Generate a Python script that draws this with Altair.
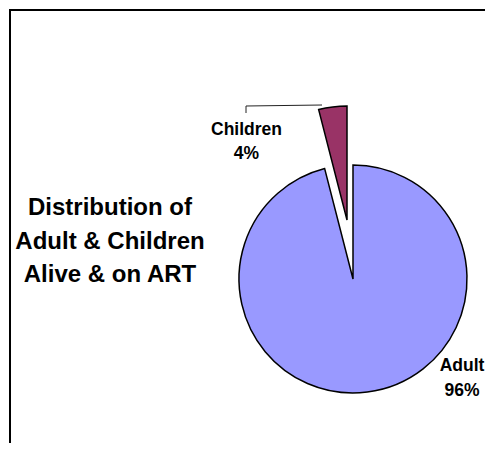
import altair as alt
import pandas as pd

categories = ["Adult", "Children"]
values = [96, 4]
colors = ["#9999FF", "#993366"]
title_lines = ["Distribution of", "Adult & Children", "Alive & on ART"]

df = pd.DataFrame({"category": categories, "value": values, "order": list(range(len(categories)))})

base = alt.Chart(df).transform_joinaggregate(
    total="sum(value)"
).transform_window(
    cum="sum(value)", sort=[alt.SortField("order")], frame=[None, 0]
).transform_calculate(
    start="(datum.cum - datum.value) / datum.total * 2 * PI",
    end="datum.cum / datum.total * 2 * PI",
    label="datum.category + '\\n' + datum.value + '%'",
)

color_scale = alt.Scale(domain=categories, range=colors)

CX, CY, R = 345, 271, 114

adult_arc = base.transform_filter(alt.datum.category == "Adult").mark_arc(
    radius=R, stroke="black", strokeWidth=1.5
).encode(
    theta=alt.Theta("start:Q", scale=None),
    theta2=alt.Theta2("end:Q"),
    color=alt.Color("category:N", scale=color_scale, legend=None),
    x=alt.value(CX), y=alt.value(CY),
)

child_arc = base.transform_filter(alt.datum.category == "Children").mark_arc(
    radius=R, stroke="black", strokeWidth=1.5, xOffset=-6, yOffset=-59
).encode(
    theta=alt.Theta("start:Q", scale=None),
    theta2=alt.Theta2("end:Q"),
    color=alt.Color("category:N", scale=color_scale, legend=None),
    x=alt.value(CX), y=alt.value(CY),
)

label_props = dict(font="Liberation Sans", fontWeight="bold", fontSize=17.5,
                   align="center", baseline="alphabetic", lineBreak="\n",
                   lineHeight=24.5, color="black")

child_label = base.transform_filter(alt.datum.category == "Children").mark_text(
    **label_props
).encode(text="label:N", x=alt.value(238.5), y=alt.value(126.5))

adult_label = base.transform_filter(alt.datum.category == "Adult").mark_text(
    **label_props
).encode(text="label:N", x=alt.value(454), y=alt.value(363))

leader_h = alt.Chart(df).mark_rule(color="#222222", strokeWidth=1).encode(
    x=alt.value(238), x2=alt.value(314), y=alt.value(98), y2=alt.value(97)
).transform_filter(alt.datum.category == "Children")
leader_v = alt.Chart(df).mark_rule(color="#222222", strokeWidth=1).encode(
    x=alt.value(238), y=alt.value(98), y2=alt.value(105)
).transform_filter(alt.datum.category == "Children")

title_df = pd.DataFrame({"line": ["\n".join(title_lines)]})
title = alt.Chart(title_df).mark_text(
    font="Liberation Sans", fontWeight="bold", fontSize=24, align="center",
    baseline="alphabetic", lineBreak="\n", lineHeight=33.5, color="black"
).encode(text="line:N", x=alt.value(102), y=alt.value(207))

border_left = alt.Chart(title_df).mark_rule(color="black", strokeWidth=2).encode(
    x=alt.value(2), y=alt.value(1), y2=alt.value(440)
)
border_top = alt.Chart(title_df).mark_rule(color="black", strokeWidth=2).encode(
    x=alt.value(1), x2=alt.value(480), y=alt.value(2)
)

chart = alt.layer(
    border_left, border_top, adult_arc, child_arc, leader_h, leader_v,
    child_label, adult_label, title
).properties(
    width=477, height=435,
    autosize=alt.AutoSizeParams(type="none"),
    padding=0,
).configure_view(stroke=None)

chart.save("out.html", embed_options={"renderer": "svg", "actions": False})
